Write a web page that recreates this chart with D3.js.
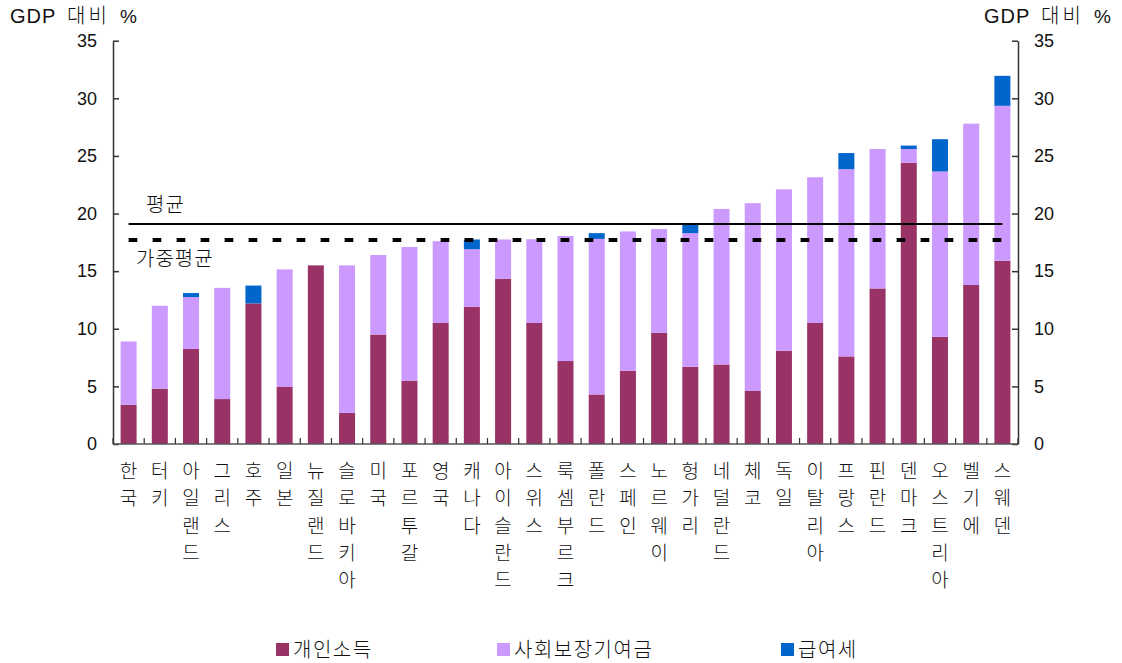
<!DOCTYPE html>
<html>
<head>
<meta charset="utf-8">
<script src="https://cdn.jsdelivr.net/npm/d3@7"></script>
<style>
  html, body { margin: 0; padding: 0; background: #fff; }
  text { font-family: "Liberation Sans", "Noto Sans CJK KR", sans-serif; fill: #111; }
  .kr { font-weight: 300; }
</style>
</head>
<body>
<svg id="chart" width="1122" height="663"></svg>
<script>
const countries = ["한국","터키","아일랜드","그리스","호주","일본","뉴질랜드","슬로바키아","미국","포르투갈","영국","캐나다","아이슬란드","스위스","룩셈부르크","폴란드","스페인","노르웨이","헝가리","네덜란드","체코","독일","이탈리아","프랑스","핀란드","덴마크","오스트리아","벨기에","스웨덴"];
const personalIncome = [3.4,4.8,8.25,3.9,12.2,4.95,15.5,2.7,9.5,5.5,10.5,11.9,14.35,10.5,7.2,4.3,6.35,9.65,6.7,6.9,4.6,8.1,10.5,7.6,13.5,24.4,9.3,13.8,15.9];
const socialSecurity = [5.5,7.2,4.5,9.65,0,10.2,0,12.8,6.9,11.6,7.1,5.0,3.4,7.27,10.85,13.5,12.1,9.0,11.6,13.5,16.3,14.0,12.65,16.25,12.1,1.2,14.35,14.0,13.45];
const payrollTax = [0,0,0.35,0,1.55,0,0,0,0,0,0,0.85,0,0,0,0.5,0,0,0.85,0,0,0,0,1.4,0,0.3,2.8,0,2.6];
const seriesNames = ["개인소득","사회보장기여금","급여세"];
const seriesColors = ["#993366","#CC99FF","#0066CC"];
const yTicks = [0,5,10,15,20,25,30,35];
const meanValue = 19.1;
const weightedMeanValue = 17.7;
const axisTitleParts = ["GDP","대비","%"];
const meanLabel = "평균";
const weightedMeanLabel = "가중평균";

const svg = d3.select("#chart");
const x0 = 113, x1 = 1018, yTop = 40.7, yBot = 444;

const x = d3.scaleBand().domain(countries).range([x0, x1]).paddingInner(0.487).paddingOuter(0.2435);
const y = d3.scaleLinear().domain([0, 35]).range([yBot, yTop]);

const rows = countries.map((c, i) => ({country: c, s0: personalIncome[i], s1: socialSecurity[i], s2: payrollTax[i]}));
const stack = d3.stack().keys(["s0","s1","s2"]);
const stacked = stack(rows);

const gBars = svg.append("g");
stacked.forEach((layer, li) => {
  gBars.selectAll(null).data(layer).enter().append("rect")
    .attr("x", d => x(d.data.country))
    .attr("width", x.bandwidth())
    .attr("y", d => y(d[1]))
    .attr("height", d => Math.max(0, y(d[0]) - y(d[1])))
    .attr("fill", seriesColors[li]);
});

// Left axis
const leftAxis = d3.axisLeft(y).tickValues(yTicks).tickSize(0).tickPadding(16);
const gl = svg.append("g").attr("transform", `translate(${x0},0)`).call(leftAxis);
gl.select(".domain").attr("stroke", "#333").attr("stroke-width", 1.5);
gl.selectAll(".tick text").style("font-size", "18px").attr("fill", "#111");
gl.selectAll(".tick").append("line").attr("x1", 0).attr("x2", 6).attr("stroke", "#333").attr("stroke-width", 1.5);

// Right axis
const rightAxis = d3.axisRight(y).tickValues(yTicks).tickSize(0).tickPadding(16);
const gr = svg.append("g").attr("transform", `translate(${x1},0)`).call(rightAxis);
gr.select(".domain").attr("stroke", "#333").attr("stroke-width", 1.5);
gr.selectAll(".tick text").style("font-size", "18px").attr("fill", "#111");
gr.selectAll(".tick").append("line").attr("x1", 0).attr("x2", -6).attr("stroke", "#333").attr("stroke-width", 1.5);

// Bottom axis line and category boundary ticks
svg.append("line").attr("x1", x0).attr("x2", x1).attr("y1", yBot).attr("y2", yBot)
  .attr("stroke", "#555").attr("stroke-width", 1.5);
const step = x.step();
const boundaries = d3.range(countries.length + 1).map(i => x0 + i * step);
svg.selectAll(null).data(boundaries).enter().append("line")
  .attr("x1", d => d).attr("x2", d => d).attr("y1", yBot).attr("y2", yBot - 6)
  .attr("stroke", "#333").attr("stroke-width", 1.2);

// Category labels, vertical one char per line
const gLab = svg.append("g");
countries.forEach(c => {
  const cx = x(c) + x.bandwidth() / 2;
  const t = gLab.append("text").attr("class", "kr").attr("text-anchor", "middle").style("font-size", "19px");
  Array.from(c).forEach((ch, k) => {
    t.append("tspan").attr("x", cx).attr("y", 478 + k * 27.3).text(ch);
  });
});

// Mean lines
const xs = x(countries[0]) + x.bandwidth() / 2;
const xe = x(countries[countries.length - 1]) + x.bandwidth() / 2;
svg.append("line").attr("x1", xs).attr("x2", xe).attr("y1", y(meanValue)).attr("y2", y(meanValue))
  .attr("stroke", "#000").attr("stroke-width", 2);
svg.append("line").attr("x1", xs).attr("x2", xe).attr("y1", y(weightedMeanValue)).attr("y2", y(weightedMeanValue))
  .attr("stroke", "#000").attr("stroke-width", 4).attr("stroke-dasharray", "8.7,15.3");

svg.append("text").attr("class", "kr").attr("x", 146).attr("y", y(meanValue) - 12)
  .style("font-size", "20px").style("letter-spacing", "1px").text(meanLabel);
svg.append("text").attr("class", "kr").attr("x", 136).attr("y", y(weightedMeanValue) + 26)
  .style("font-size", "20px").style("letter-spacing", "1px").text(weightedMeanLabel);

// Axis titles
function title(xStart) {
  const t = svg.append("text").attr("y", 23);
  const offs = [0, 57, 110];
  const sizes = ["20px", "20px", "19px"];
  const spacing = ["1px", "3px", "0px"];
  axisTitleParts.forEach((p, i) => {
    t.append("tspan").attr("x", xStart + offs[i]).attr("class", i === 1 ? "kr" : null)
      .style("font-size", sizes[i]).style("letter-spacing", spacing[i]).text(p);
  });
}
title(10);
title(984);

// Legend
const legendX = [276, 497, 781];
seriesNames.forEach((n, i) => {
  svg.append("rect").attr("x", legendX[i]).attr("y", 643).attr("width", 13).attr("height", 13).attr("fill", seriesColors[i]);
  svg.append("text").attr("class", "kr").attr("x", legendX[i] + 17).attr("y", 657)
    .style("font-size", "20px").style("letter-spacing", "1.5px").text(n);
});
</script>
</body>
</html>
